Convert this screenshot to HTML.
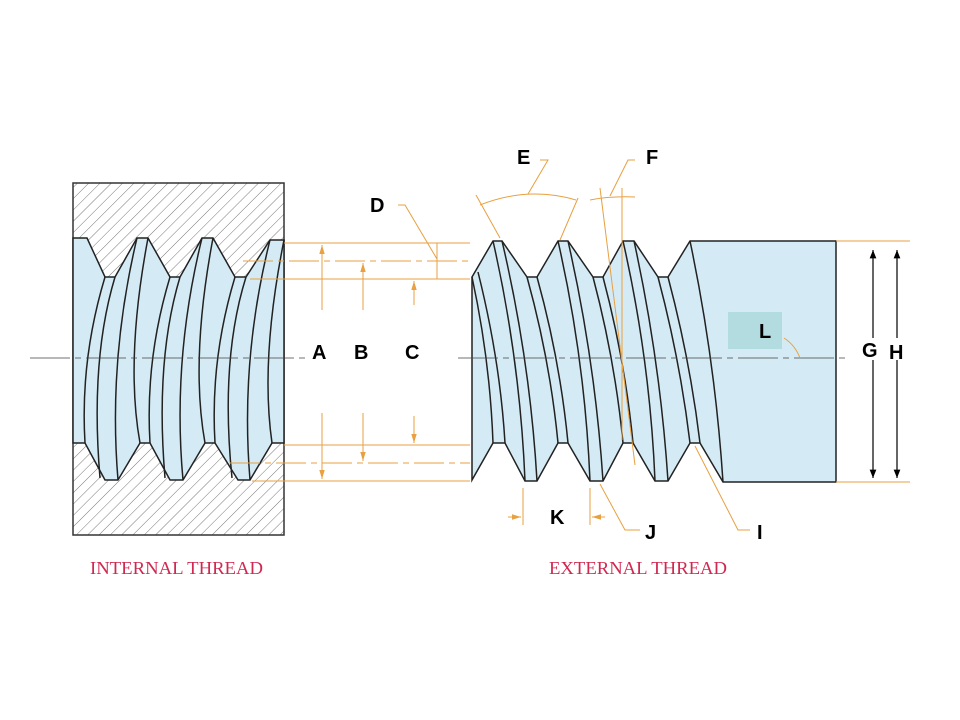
<!DOCTYPE html>
<html><head><meta charset="utf-8"><style>
html,body{margin:0;padding:0;background:#fff;}
svg{display:block;}
.lbl{font-family:"Liberation Sans",sans-serif;font-weight:bold;font-size:20px;fill:#000;}
.cap{font-family:"Liberation Serif",serif;font-size:17.5px;fill:#d02850;}
</style></head><body>
<svg width="960" height="720" viewBox="0 0 960 720" xmlns="http://www.w3.org/2000/svg">
<defs>
<pattern id="hatch" width="8" height="8" patternUnits="userSpaceOnUse" patternTransform="rotate(45)">
<rect width="8" height="8" fill="#fff"/><line x1="0" y1="0" x2="0" y2="8" stroke="#555" stroke-width="0.8"/>
</pattern>
<marker id="ao" viewBox="0 0 10 10" refX="10" refY="5" markerWidth="9" markerHeight="9" orient="auto-start-reverse"><path d="M0,2 L10,5 L0,8z" fill="#e8a040"/></marker>
<marker id="ab" viewBox="0 0 10 10" refX="10" refY="5" markerWidth="7" markerHeight="7" orient="auto-start-reverse"><path d="M0,1 L10,5 L0,9z" fill="#000"/></marker>
</defs>
<rect x="73" y="183" width="211" height="352" fill="url(#hatch)" stroke="#333" stroke-width="1.5"/>
<path d="M73,238 L87,238 L105,277 L115,277 L137,238 L148,238 L170,277 L180,277 L202,238 L213,238 L235,277 L246,277 L270,240 L284,240 L284,443 L272,443 L250,480 L238,480 L215,443 L205,443 L183,480 L170,480 L150,443 L140,443 L118,480 L105,480 L85,443 L73,443 Z" fill="#d4ebf5" stroke="#222" stroke-width="1.5"/>
<g fill="none" stroke="#222" stroke-width="1.5">
<path d="M105,277 Q80,360 85,443"/><path d="M115,277 Q90,360 100,478"/>
<path d="M137,238 Q108,360 118,480"/><path d="M148,238 Q125,360 140,443"/>
<path d="M170,277 Q145,360 150,443"/><path d="M180,277 Q155,360 165,478"/>
<path d="M202,238 Q172,360 183,480"/><path d="M213,238 Q190,360 205,443"/>
<path d="M235,277 Q210,360 215,443"/><path d="M246,277 Q220,360 232,478"/>
<path d="M270,240 Q240,360 250,480"/><path d="M284,240 Q260,360 272,443"/>
</g>
<path d="M472,277 L493,241 L502,241 L527,277 L537,277 L558,241 L568,241 L593,277 L603,277 L623,241 L634,241 L658,277 L668,277 L690,241 L836,241 L836,482 L723,482 L700,443 L690,443 L668,481 L655,481 L633,443 L623,443 L603,481 L590,481 L568,443 L558,443 L537,481 L525,481 L505,443 L493,443 L472,480 Z" fill="#d4ebf5" stroke="#222" stroke-width="1.5"/>
<g fill="none" stroke="#222" stroke-width="1.5">
<path d="M472,277 Q490,360 493,443"/><path d="M478,272 Q500,360 505,443"/>
<path d="M493,241 Q520,360 525,481"/><path d="M502,241 Q530,360 537,481"/>
<path d="M527,277 Q550,360 558,443"/><path d="M537,277 Q560,360 568,443"/>
<path d="M558,241 Q585,360 590,481"/><path d="M568,241 Q595,360 603,481"/>
<path d="M593,277 Q615,360 623,443"/><path d="M603,277 Q625,360 633,443"/>
<path d="M623,241 Q650,360 655,481"/><path d="M634,241 Q660,360 668,481"/>
<path d="M658,277 Q680,360 690,443"/><path d="M668,277 Q690,360 700,443"/>
<path d="M690,241 Q715,360 723,482"/>
</g>
<rect x="728" y="312" width="54" height="37" fill="#b3dce0"/>
<line x1="30" y1="358" x2="310" y2="358" stroke="#444" stroke-width="0.8" stroke-dasharray="40,5,6,5"/>
<line x1="458" y1="358" x2="850" y2="358" stroke="#444" stroke-width="0.8" stroke-dasharray="40,5,6,5"/>
<g stroke="#e8a040" stroke-width="1" fill="none">
<line x1="284" y1="243" x2="470" y2="243"/>
<line x1="243" y1="261" x2="470" y2="261" stroke-dasharray="30,5,6,5"/>
<line x1="250" y1="279" x2="470" y2="279"/>
<line x1="284" y1="445" x2="470" y2="445"/>
<line x1="230" y1="463" x2="470" y2="463" stroke-dasharray="30,5,6,5"/>
<line x1="252" y1="481" x2="470" y2="481"/>
<line x1="322" y1="310" x2="322" y2="245" marker-end="url(#ao)"/>
<line x1="322" y1="413" x2="322" y2="479" marker-end="url(#ao)"/>
<line x1="363" y1="310" x2="363" y2="263" marker-end="url(#ao)"/>
<line x1="363" y1="413" x2="363" y2="461" marker-end="url(#ao)"/>
<line x1="414" y1="305" x2="414" y2="281" marker-end="url(#ao)"/>
<line x1="414" y1="416" x2="414" y2="443" marker-end="url(#ao)"/>
<line x1="437" y1="243" x2="437" y2="279"/>
<path d="M398,205 L405,205 L437,259"/>
<path d="M540,160 L548,160 L528,194"/>
<path d="M480,205 Q528,186 576,200"/>
<line x1="476" y1="195" x2="500" y2="238"/>
<line x1="578" y1="198" x2="560" y2="240"/>
<path d="M635,160 L628,160 L610,196"/>
<path d="M590,200 Q610,196 635,197"/>
<line x1="600" y1="188" x2="635" y2="465"/>
<line x1="622" y1="188" x2="622" y2="440"/>
<line x1="836" y1="241" x2="910" y2="241"/>
<line x1="836" y1="482" x2="910" y2="482"/>
<line x1="523" y1="488" x2="523" y2="525"/>
<line x1="508" y1="517" x2="521" y2="517" marker-end="url(#ao)"/>
<line x1="590" y1="488" x2="590" y2="525"/>
<line x1="605" y1="517" x2="592" y2="517" marker-end="url(#ao)"/>
<path d="M640,530 L625,530 L600,484"/>
<path d="M750,530 L738,530 L695,446"/>
<path d="M784,338 Q795,345 800,358"/>
</g>
<line x1="873" y1="358" x2="873" y2="250" stroke="#000" stroke-width="1.2" marker-end="url(#ab)"/>
<line x1="873" y1="358" x2="873" y2="478" stroke="#000" stroke-width="1.2" marker-end="url(#ab)"/>
<line x1="897" y1="358" x2="897" y2="250" stroke="#000" stroke-width="1.2" marker-end="url(#ab)"/>
<line x1="897" y1="358" x2="897" y2="478" stroke="#000" stroke-width="1.2" marker-end="url(#ab)"/>
<rect x="862" y="338" width="44" height="22" fill="#fff"/>
<text class="lbl" x="312" y="359">A</text>
<text class="lbl" x="354" y="359">B</text>
<text class="lbl" x="405" y="359">C</text>
<text class="lbl" x="370" y="212">D</text>
<text class="lbl" x="517" y="164">E</text>
<text class="lbl" x="646" y="164">F</text>
<text class="lbl" x="862" y="357">G</text>
<text class="lbl" x="889" y="359">H</text>
<text class="lbl" x="757" y="539">I</text>
<text class="lbl" x="645" y="539">J</text>
<text class="lbl" x="550" y="524">K</text>
<text class="lbl" x="759" y="338">L</text>
<text class="cap" x="90" y="574" textLength="173" lengthAdjust="spacingAndGlyphs">INTERNAL THREAD</text>
<text class="cap" x="549" y="574" textLength="178" lengthAdjust="spacingAndGlyphs">EXTERNAL THREAD</text>
</svg>
</body></html>
